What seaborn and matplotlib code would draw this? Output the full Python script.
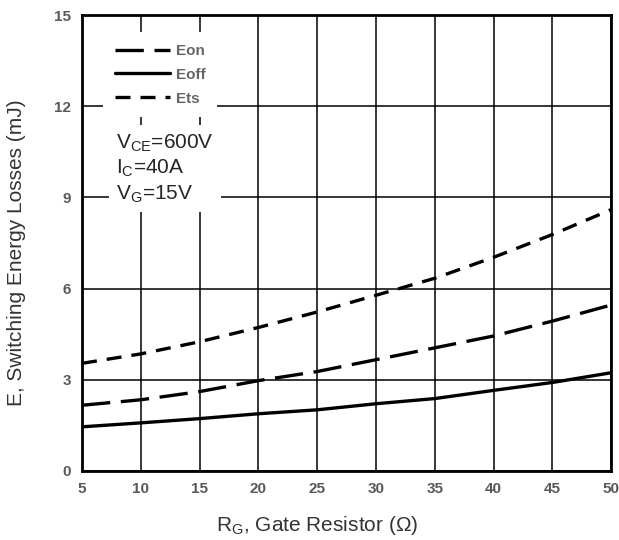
import matplotlib
matplotlib.use("Agg")
import matplotlib.pyplot as plt
import pandas as pd
import seaborn as sns

rg = [5, 10, 15, 20, 25, 30, 35, 40, 45, 50]
eon = [2.16, 2.34, 2.61, 2.97, 3.27, 3.66, 4.05, 4.44, 4.93, 5.46]
eoff = [1.45, 1.58, 1.72, 1.88, 2.01, 2.21, 2.38, 2.65, 2.91, 3.23]
ets = [3.54, 3.85, 4.25, 4.72, 5.23, 5.78, 6.34, 7.03, 7.78, 8.60]
curves = ["Eon", "Eoff", "Ets"]
x_ticks = [5, 10, 15, 20, 25, 30, 35, 40, 45, 50]
y_ticks = [0, 3, 6, 9, 12, 15]

df = pd.concat(
    [
        pd.DataFrame({"rg": rg, "e": vals, "curve": name})
        for name, vals in zip(curves, [eon, eoff, ets])
    ],
    ignore_index=True,
)

sns.set_style("white")
plt.rcParams["font.family"] = ["Liberation Sans", "DejaVu Sans"]
plt.rcParams["mathtext.default"] = "regular"

fig = plt.figure(figsize=(6.19, 5.4), dpi=100)
ax = fig.add_axes([0.1325, 0.128, 0.855, 0.844])

sns.lineplot(
    data=df,
    x="rg",
    y="e",
    style="curve",
    style_order=curves,
    dashes={"Eon": (8.5, 3.2), "Eoff": "", "Ets": (4.5, 3.0)},
    color="black",
    linewidth=2.4,
    ax=ax,
)

ax.set_xlim(5, 50)
ax.set_ylim(0, 15)
ax.set_xticks(x_ticks)
ax.set_yticks(y_ticks)
ax.grid(True, color="black", linewidth=1.1)
ax.set_axisbelow(True)
for s in ax.spines.values():
    s.set_color("black")
    s.set_linewidth(2.0)
ax.tick_params(length=0, pad=8, labelsize=11, labelcolor="#595959")
for lbl in ax.get_xticklabels() + ax.get_yticklabels():
    lbl.set_fontweight("bold")

ax.set_xlabel("R$_G$, Gate Resistor (Ω)", fontsize=15, color="#333333")
ax.set_ylabel("E, Switching Energy Losses (mJ)", fontsize=15, color="#333333")
ax.xaxis.set_label_coords(0.444, -0.095)
ax.yaxis.set_label_coords(-0.105, 0.478)

handles, labels = ax.get_legend_handles_labels()
leg = ax.legend(
    handles,
    labels,
    loc="upper left",
    bbox_to_anchor=(0.04, 0.962),
    borderaxespad=0,
    frameon=True,
    facecolor="white",
    edgecolor="none",
    fancybox=False,
    framealpha=1,
    handlelength=3.6,
    handletextpad=0.4,
    labelspacing=0.65,
    borderpad=0.75,
    fontsize=11,
)
for t in leg.get_texts():
    t.set_color("#666666")
    t.set_fontweight("bold")

ax.text(
    0.064,
    0.743,
    "V$_{CE}$=600V\nI$_C$=40A\nV$_G$=15V",
    transform=ax.transAxes,
    fontsize=15,
    va="top",
    ha="left",
    linespacing=1.27,
    bbox=dict(facecolor="white", edgecolor="none", pad=5),
)

fig.savefig("out.png", dpi=100)
